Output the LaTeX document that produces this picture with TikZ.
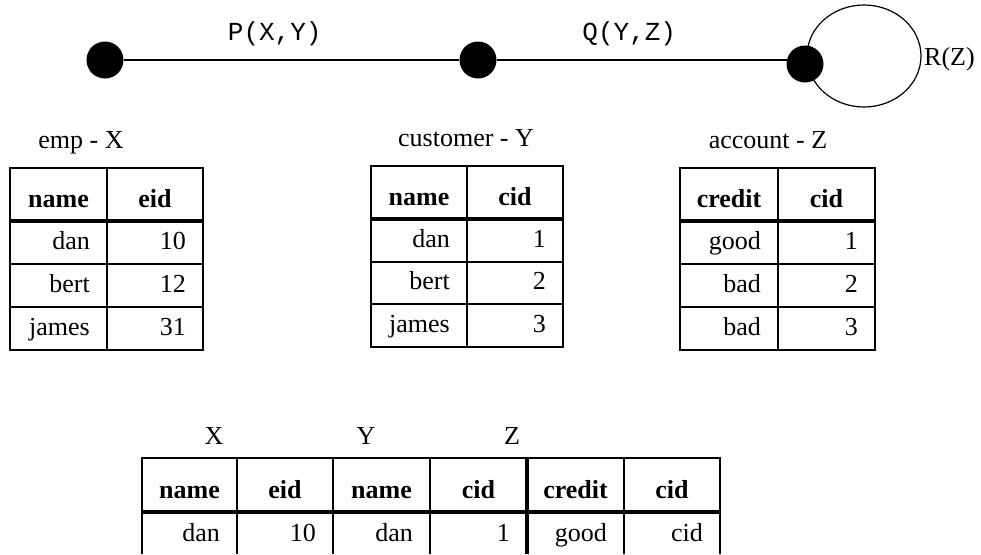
\documentclass[tikz,border=0pt]{standalone}
\usepackage{fontspec}
\setmainfont{Liberation Serif}
\newfontfamily\relfont{Liberation Mono}

\begin{document}
\begin{tikzpicture}[x=1pt,y=-1pt,
	vertex/.style={circle,fill=black,minimum size=37pt,inner sep=0pt},
	rel/.style={font=\fontsize{26}{30}\relfont,anchor=base,inner sep=0pt,yshift=20pt},
	lbl/.style={font=\fontsize{26}{30}\selectfont,anchor=base,inner sep=0pt},
	head/.style={font=\fontsize{26}{30}\selectfont\bfseries,anchor=base,inner sep=0pt},
	val/.style={font=\fontsize{26}{30}\selectfont,anchor=base east,inner sep=0pt},
	grid/.style={line width=1.2pt},
	bar/.style={line width=4pt}]
	\useasboundingbox (0,0) rectangle (981,554);
	% query graph
	\coordinate (loopc) at (864,56);
	\draw[grid] (loopc) ellipse [x radius=57pt, y radius=51pt];
	\node[vertex] (x) at (105,60) {};
	\node[vertex] (y) at (478,60) {};
	\node[vertex] (z) at (805,64) {};
	\draw[grid] (x) -- node[rel,pos=0.45] (p) {P(X,Y)} (y);
	\draw[grid] (y) -- node[rel,pos=0.43] (q) {Q(Y,Z)} (y -| z);
	\node[lbl,anchor=base west] (r) at (924,65) {R(Z)};
	% emp
	\node[lbl] (emp) at (81,148) {emp - X};
	\draw[grid] (10,168) rectangle (203,350);
	\draw[grid] (107,168) -- (107,350);
	\draw[grid] (10,264) -- (203,264) (10,307) -- (203,307);
	\draw[bar] (10,221) -- (203,221);
	\node[head] (emp-h1) at (58.5,207) {name};
	\node[head] (emp-h2) at (155,207) {eid};
	\foreach \a/\b [count=\i] in {dan/10, bert/12, james/31} {
		\node[val] (emp-\i-1) at (90,{249+43*(\i-1)}) {\a};
		\node[val] (emp-\i-2) at (186,{249+43*(\i-1)}) {\b};
	}
	% customer
	\node[lbl] (cust) at (466,146) {customer - Y};
	\draw[grid] (371,166) rectangle (563,347);
	\draw[grid] (467,166) -- (467,347);
	\draw[grid] (371,262) -- (563,262) (371,304) -- (563,304);
	\draw[bar] (371,219) -- (563,219);
	\node[head] (cust-h1) at (419,205) {name};
	\node[head] (cust-h2) at (515,205) {cid};
	\foreach \a/\b [count=\i] in {dan/1, bert/2, james/3} {
		\node[val] (cust-\i-1) at (450,{247+42.5*(\i-1)}) {\a};
		\node[val] (cust-\i-2) at (546,{247+42.5*(\i-1)}) {\b};
	}
	% account
	\node[lbl] (acct) at (768,148) {account - Z};
	\draw[grid] (680,168) rectangle (875,350);
	\draw[grid] (778,168) -- (778,350);
	\draw[grid] (680,264) -- (875,264) (680,307) -- (875,307);
	\draw[bar] (680,221) -- (875,221);
	\node[head] (acct-h1) at (729,207) {credit};
	\node[head] (acct-h2) at (826.5,207) {cid};
	\foreach \a/\b [count=\i] in {good/1, bad/2, bad/3} {
		\node[val] (acct-\i-1) at (761,{249+43*(\i-1)}) {\a};
		\node[val] (acct-\i-2) at (858,{249+43*(\i-1)}) {\b};
	}
	% join result
	\node[lbl] (jx) at (214,444) {X};
	\node[lbl] (jy) at (366,444) {Y};
	\node[lbl] (jz) at (512,444) {Z};
	\draw[grid] (142,554) -- (142,458) -- (720,458) -- (720,554);
	\foreach \cx in {237,333,430,624}
		\draw[grid] (\cx,458) -- (\cx,554);
	\draw[bar] (142,512) -- (720,512);
	\draw[line width=4.5pt] (527,458) -- (527,554);
	\foreach \h/\cx [count=\i] in {name/189.5, eid/285, name/381.5, cid/478.5, credit/575.5, cid/672}
		\node[head] (join-h\i) at (\cx,498) {\h};
	\foreach \v/\cx [count=\i] in {dan/220, 10/316, dan/413, 1/510, good/607, cid/703}
		\node[val] (join-1-\i) at (\cx,541) {\v};
\end{tikzpicture}
\end{document}
